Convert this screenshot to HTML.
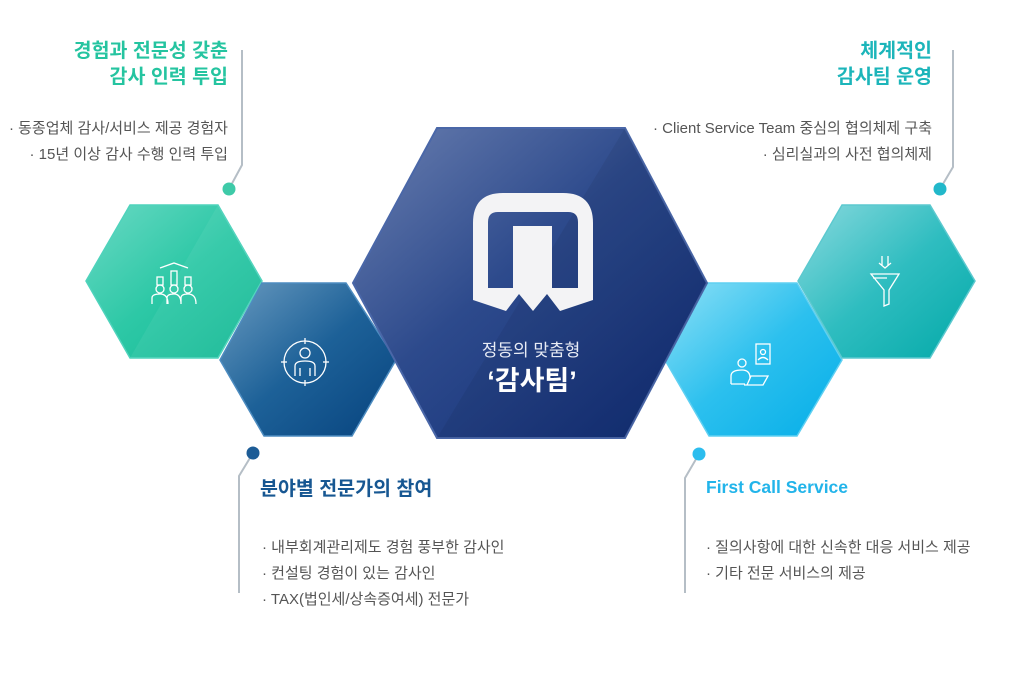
<!DOCTYPE html>
<html><head><meta charset="utf-8"><style>
html,body{margin:0;padding:0;background:#fff;}
svg{display:block;}
text{font-family:"Liberation Sans","Noto Sans CJK KR",sans-serif;}
</style></head><body>
<svg width="1024" height="683" viewBox="0 0 1024 683" xmlns="http://www.w3.org/2000/svg">
<defs>
<linearGradient id="gG" x1="0" y1="0" x2="1" y2="1"><stop offset="0" stop-color="#6ad9c4"/><stop offset="0.5" stop-color="#2dc8a6"/><stop offset="1" stop-color="#12b894"/></linearGradient>
<linearGradient id="gB" x1="0" y1="0" x2="1" y2="1"><stop offset="0" stop-color="#6a9bc0"/><stop offset="0.5" stop-color="#1d6198"/><stop offset="1" stop-color="#07437e"/></linearGradient>
<linearGradient id="gC" x1="0" y1="0" x2="1" y2="1"><stop offset="0" stop-color="#6a7fb0"/><stop offset="0.45" stop-color="#2d4a8c"/><stop offset="1" stop-color="#0e2a72"/></linearGradient>
<linearGradient id="gS" x1="0" y1="0" x2="1" y2="1"><stop offset="0" stop-color="#8ee0f6"/><stop offset="0.5" stop-color="#2cc0ee"/><stop offset="1" stop-color="#05aee8"/></linearGradient>
<linearGradient id="gT" x1="0" y1="0" x2="1" y2="1"><stop offset="0" stop-color="#8ad9de"/><stop offset="0.5" stop-color="#2fbdc0"/><stop offset="1" stop-color="#03a9a8"/></linearGradient>
</defs>

<g stroke="#b5bec6" stroke-width="2" fill="none">
<polyline points="242,50 242,165 229,189"/>
<polyline points="953,50 953,167 940,189"/>
<polyline points="253,453 239,476 239,593"/>
<polyline points="699,454 685,478 685,593"/>
</g>
<circle cx="229" cy="189" r="6.5" fill="#3ecaa8"/>
<circle cx="940" cy="189" r="6.5" fill="#22b8ca"/>
<circle cx="253" cy="453" r="6.5" fill="#1d5c96"/>
<circle cx="699" cy="454" r="6.5" fill="#2cbdee"/>

<polygon points="86,281 130,205 218,205 262,281 218,358 130,358" fill="url(#gG)" stroke="#4fd3bc" stroke-width="1.5"/>
<polygon points="130,358 218,205 262,281 218,358" fill="#fff" opacity="0.06"/>
<polygon points="220,360 262,283 346,283 396,360 352,436 264,436" fill="url(#gB)" stroke="#4d8cc0" stroke-width="1.5"/>
<polygon points="665,360 707,283 797,283 842,360 797,436 709,436" fill="url(#gS)" stroke="#5fd0f2" stroke-width="1.5"/>
<polygon points="798,281 842,205 930,205 975,281 930,358 842,358" fill="url(#gT)" stroke="#5cc9cf" stroke-width="1.5"/>
<polygon points="353,283 437,128 625,128 707,283 625,438 437,438" fill="url(#gC)" stroke="#4a67a8" stroke-width="2"/>
<polygon points="437,438 625,128 707,283 625,438" fill="#000" opacity="0.06"/>

<!-- logo -->
<path d="M503,193 H563 Q593,193 593,223 V300 L560,311 L547,294 L533,311 L519,294 L506,311 L473,300 V223 Q473,193 503,193 Z M498,212 Q488,212 488,222 V288 H513 V226 H552 V288 H578 V222 Q578,212 568,212 Z" fill="#f3f3f5" fill-rule="evenodd"/>
<text x="531" y="356" text-anchor="middle" font-size="17" fill="#e8ecf5">정동의 맞춤형</text>
<text x="532" y="390" text-anchor="middle" font-size="27" font-weight="bold" fill="#fff">‘감사팀’</text>

<g stroke="#fff" stroke-width="1.3" fill="none">
<rect x="157" y="277" width="6" height="8"/><rect x="171" y="271" width="6" height="14"/><rect x="185" y="277" width="6" height="8"/>
<circle cx="160" cy="289" r="4"/><circle cx="174" cy="289" r="4"/><circle cx="188" cy="289" r="4"/>
<path d="M152,304 V298 Q152,294 160,294 Q168,294 168,304 M167,304 V298 Q167,294 174,294 Q181,294 181,304 M181,304 V298 Q181,294 188,294 Q196,294 196,304"/>
<polyline points="160,268 174,263 188,268"/>
<circle cx="305" cy="362" r="21"/>
<line x1="305" y1="338" x2="305" y2="344"/><line x1="305" y1="380" x2="305" y2="386"/><line x1="281" y1="362" x2="287" y2="362"/><line x1="323" y1="362" x2="329" y2="362"/>
<circle cx="305" cy="353" r="5"/><path d="M295,376 V366 Q295,361 305,361 Q315,361 315,366 V376 M300,368 V376 M310,368 V376"/>
<rect x="756" y="344" width="14" height="20"/><circle cx="763" cy="352" r="2.5"/><path d="M758,360 Q763,355 768,360"/>
<circle cx="742" cy="363" r="4"/><path d="M731,384 V376 Q731,370 742,370 Q750,370 750,378 M744,385 H763 L768,376 H751 L747,385 M731,384 H745"/>
<path d="M882,256 V266 M888,256 V266 M879,263 L885,268 L891,263 M871,274 H899 L889,290 V304 L884,306 V290 Z M873,278 H887"/>
</g>

<g font-weight="bold" font-size="19.5">
<text x="228" y="57" text-anchor="end" fill="#25c4a0">경험과 전문성 갖춘</text>
<text x="228" y="83" text-anchor="end" fill="#25c4a0">감사 인력 투입</text>
<text x="932" y="57" text-anchor="end" fill="#1cb5ba">체계적인</text>
<text x="932" y="83" text-anchor="end" fill="#1cb5ba">감사팀 운영</text>
<text x="260" y="495" fill="#175792">분야별 전문가의 참여</text>
</g>
<text x="706" y="493" font-weight="bold" font-size="17.5" fill="#22b4ea">First Call Service</text>
<g font-size="15" fill="#555">
<text x="228" y="133" text-anchor="end">· 동종업체 감사/서비스 제공 경험자</text>
<text x="228" y="159" text-anchor="end">· 15년 이상 감사 수행 인력 투입</text>
<text x="932" y="133" text-anchor="end">· Client Service Team 중심의 협의체제 구축</text>
<text x="932" y="159" text-anchor="end">· 심리실과의 사전 협의체제</text>
<text x="262" y="552">· 내부회계관리제도 경험 풍부한 감사인</text>
<text x="262" y="578">· 컨설팅 경험이 있는 감사인</text>
<text x="262" y="604">· TAX(법인세/상속증여세) 전문가</text>
<text x="706" y="552">· 질의사항에 대한 신속한 대응 서비스 제공</text>
<text x="706" y="578">· 기타 전문 서비스의 제공</text>
</g>
</svg>
</body></html>
